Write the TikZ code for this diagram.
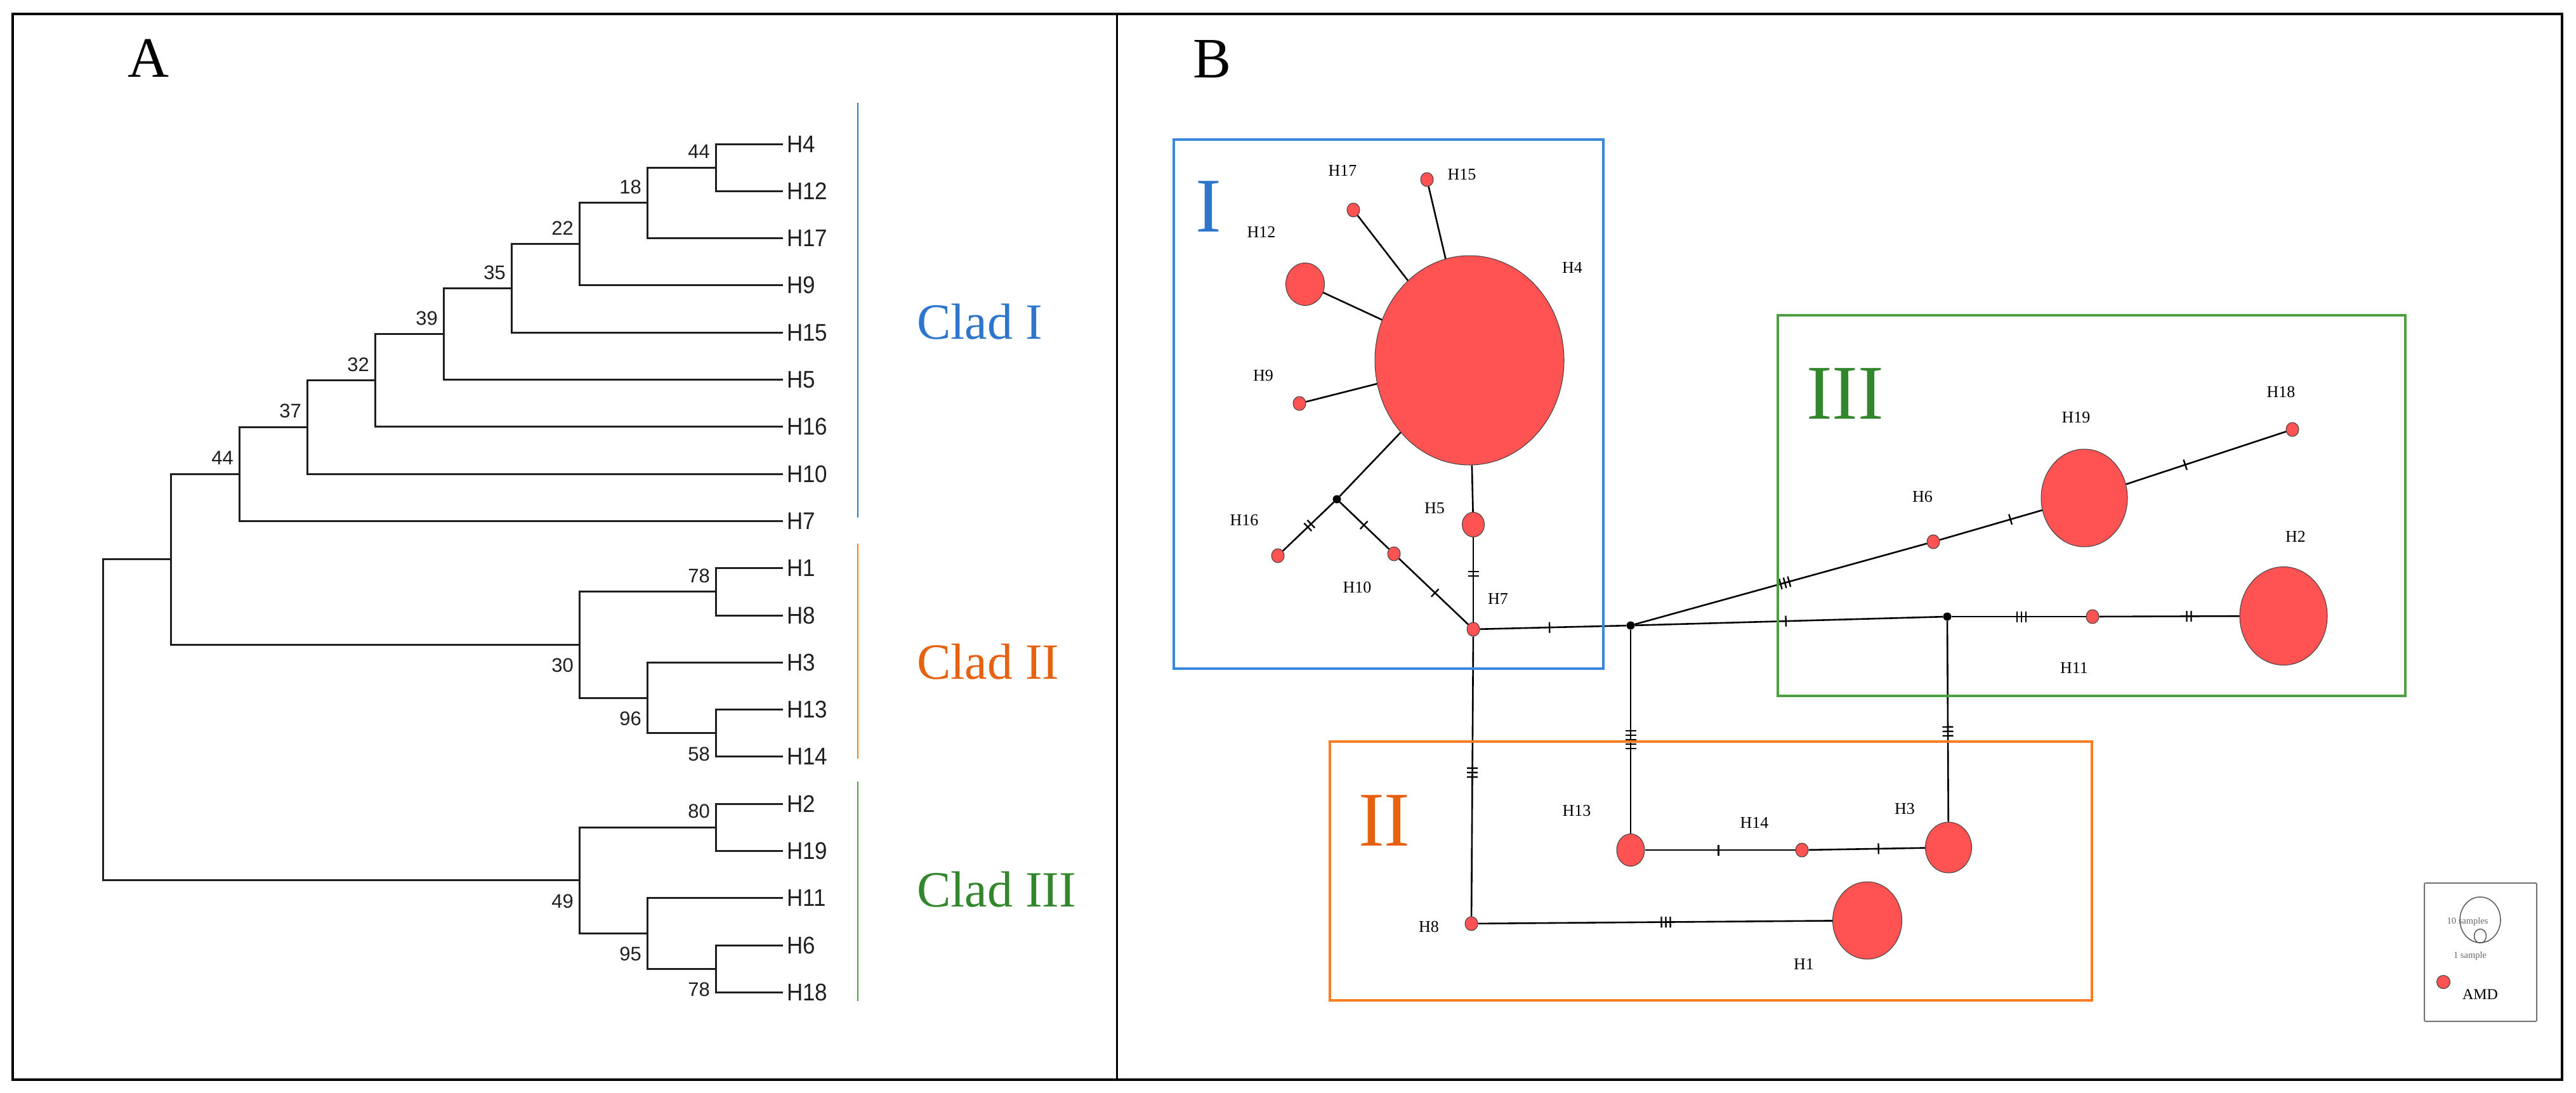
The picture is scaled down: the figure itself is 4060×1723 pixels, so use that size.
\documentclass[tikz,border=0pt]{standalone}
\usepackage{fontspec}
\setmainfont{Liberation Serif}
\newfontfamily\treesans{Liberation Sans}
\newfontfamily\leafsans[FakeStretch=0.92]{Liberation Sans}
\usetikzlibrary{shapes.geometric,decorations.markings}

\definecolor{hapred}{RGB}{255,82,82}
\definecolor{cladblue}{RGB}{46,117,204}
\definecolor{boxblue}{RGB}{58,134,220}
\definecolor{cladorange}{RGB}{230,98,18}
\definecolor{boxorange}{RGB}{250,125,35}
\definecolor{cladgreen}{RGB}{50,135,45}
\definecolor{boxgreen}{RGB}{78,158,66}

\tikzset{
  branch/.style={line width=3pt, color=black!88},
  leaf/.style={anchor=west, inner xsep=6pt, inner ysep=0pt, text=black!88, font=\leafsans\fontsize{38}{38}\selectfont},
  boot/.style={anchor=east, inner sep=0pt, text=black!88, font=\treesans\fontsize{31}{31}\selectfont},
  clad/.style={anchor=base west, inner sep=0pt, font=\fontsize{80}{80}\selectfont},
  panel/.style={anchor=base west, inner sep=0pt, font=\fontsize{90}{90}\selectfont},
  roman/.style={anchor=base west, inner sep=0pt, font=\fontsize{122}{122}\selectfont},
  hap/.style 2 args={ellipse, draw=black!75, line width=1pt, fill=hapred, inner sep=0pt, minimum width=#1, minimum height=#2},
  hsmall/.style={hap={20pt}{22pt}},
  mv/.style={circle, fill=black, inner sep=0pt, minimum size=13pt},
  hlab/.style={inner sep=0pt, font=\fontsize{26}{26}\selectfont},
  keylab/.style={inner sep=0pt, text=black!60, font=\fontsize{14.5}{14.5}\selectfont},
  edge/.style={line width=2.6pt},
  ticks/.style 2 args={postaction={decorate, decoration={markings, mark=at position #1 with {\foreach \t in {1,...,#2}{\draw[line width=2.4pt] ({(\t-(#2+1)/2)*7pt},-8.5pt) -- ({(\t-(#2+1)/2)*7pt},8.5pt);}}}}},
}

\begin{document}
\begin{tikzpicture}[x=1pt,y=1pt,yscale=-1,xscale=1]
\useasboundingbox (0,0) rectangle (4060,1723);

%Frame
\draw [line width=3.5pt] (20,22) rectangle (4038,1702);
\draw [line width=3pt] (1760,22) -- (1760,1702);

% Text Node
\node [panel] (labA) at (201,122) {A};
% Text Node
\node [panel] (labB) at (1880,123) {B};

%Tree leaves
\node [leaf] (L4) at (1234,227) {H4};
\node [leaf] (L12) at (1234,301.3) {H12};
\node [leaf] (L17) at (1234,375.6) {H17};
\node [leaf] (L9) at (1234,449.9) {H9};
\node [leaf] (L15) at (1234,524.2) {H15};
\node [leaf] (L5) at (1234,598.5) {H5};
\node [leaf] (L16) at (1234,672.8) {H16};
\node [leaf] (L10) at (1234,747.1) {H10};
\node [leaf] (L7) at (1234,821.4) {H7};
\node [leaf] (L1) at (1234,895.7) {H1};
\node [leaf] (L8) at (1234,970) {H8};
\node [leaf] (L3) at (1234,1044.3) {H3};
\node [leaf] (L13) at (1234,1118.6) {H13};
\node [leaf] (L14) at (1234,1192.9) {H14};
\node [leaf] (L2) at (1234,1267.2) {H2};
\node [leaf] (L19) at (1234,1341.5) {H19};
\node [leaf] (L11) at (1234,1415.8) {H11};
\node [leaf] (L6) at (1234,1490.1) {H6};
\node [leaf] (L18) at (1234,1564.4) {H18};

%Tree inner nodes
\coordinate (a44) at (1128,264.2);
\coordinate (a18) at (1020,319.9);
\coordinate (a22) at (913,384.9);
\coordinate (a35) at (806,454.5);
\coordinate (a39) at (699,526.5);
\coordinate (a32) at (591,599.7);
\coordinate (a37) at (484,673.4);
\coordinate (a44b) at (377,747.4);
\coordinate (b78) at (1128,932.9);
\coordinate (b58) at (1128,1155.8);
\coordinate (b96) at (1020,1100);
\coordinate (b30) at (913,1016.4);
\coordinate (c80) at (1128,1304.4);
\coordinate (c78) at (1128,1527.3);
\coordinate (c95) at (1020,1471.5);
\coordinate (c49) at (913,1387.9);
\coordinate (ab) at (269,881.9);
\coordinate (root) at (162,1134.9);

%Tree branches
\draw [branch] (a44) |- (L4.west);
\draw [branch] (a44) |- (L12.west);
\draw [branch] (a18) |- (a44);
\draw [branch] (a18) |- (L17.west);
\draw [branch] (a22) |- (a18);
\draw [branch] (a22) |- (L9.west);
\draw [branch] (a35) |- (a22);
\draw [branch] (a35) |- (L15.west);
\draw [branch] (a39) |- (a35);
\draw [branch] (a39) |- (L5.west);
\draw [branch] (a32) |- (a39);
\draw [branch] (a32) |- (L16.west);
\draw [branch] (a37) |- (a32);
\draw [branch] (a37) |- (L10.west);
\draw [branch] (a44b) |- (a37);
\draw [branch] (a44b) |- (L7.west);
\draw [branch] (b78) |- (L1.west);
\draw [branch] (b78) |- (L8.west);
\draw [branch] (b58) |- (L13.west);
\draw [branch] (b58) |- (L14.west);
\draw [branch] (b96) |- (L3.west);
\draw [branch] (b96) |- (b58);
\draw [branch] (b30) |- (b78);
\draw [branch] (b30) |- (b96);
\draw [branch] (c80) |- (L2.west);
\draw [branch] (c80) |- (L19.west);
\draw [branch] (c78) |- (L6.west);
\draw [branch] (c78) |- (L18.west);
\draw [branch] (c95) |- (L11.west);
\draw [branch] (c95) |- (c78);
\draw [branch] (c49) |- (c80);
\draw [branch] (c49) |- (c95);
\draw [branch] (ab) |- (a44b);
\draw [branch] (ab) |- (b30);
\draw [branch] (root) |- (ab);
\draw [branch] (root) |- (c49);

%Bootstrap values
\node [boot] (s44) at (1119,239) {44};
\node [boot] (s18) at (1011,295) {18};
\node [boot] (s22) at (904,360) {22};
\node [boot] (s35) at (797,430) {35};
\node [boot] (s39) at (690,502) {39};
\node [boot] (s32) at (582,575) {32};
\node [boot] (s37) at (475,648) {37};
\node [boot] (s44b) at (368,722) {44};
\node [boot] (s78) at (1119,908) {78};
\node [boot] (s30) at (904,1049) {30};
\node [boot] (s96) at (1011,1133) {96};
\node [boot] (s58) at (1119,1189) {58};
\node [boot] (s80) at (1119,1279) {80};
\node [boot] (s49) at (904,1421) {49};
\node [boot] (s95) at (1011,1504) {95};
\node [boot] (s78b) at (1119,1560) {78};

%Clade bars
\draw [cladblue, line width=2pt] (1352,162) -- (1352,816);
\draw [boxorange, line width=2pt] (1352,857) -- (1352,1196);
\draw [boxgreen, line width=2pt] (1352,1232) -- (1352,1578);
% Text Node
\node [clad, text=cladblue] (cI) at (1445,534) {Clad I};
\node [clad, text=cladorange] (cII) at (1445,1070) {Clad II};
\node [clad, text=cladgreen] (cIII) at (1445,1429) {Clad III};

%Haplotypes
\node [hap={298pt}{330pt}] (H4) at (2316,568) {};
\node [hap={61pt}{67pt}] (H12) at (2057,448) {};
\node [hsmall] (H17) at (2133,331) {};
\node [hsmall] (H15) at (2249,283) {};
\node [hsmall] (H9) at (2048,636) {};
\node [hap={35pt}{39pt}] (H5) at (2322,827) {};
\node [hsmall] (H16) at (2014,876) {};
\node [hsmall] (H10) at (2197,873) {};
\node [hsmall] (H7) at (2322,992) {};
\node [mv] (mv1) at (2107,787) {};
\node [mv] (mv2) at (2570,986) {};
\node [mv] (mv3) at (3069,972) {};
\node [hsmall] (H6) at (3047,854) {};
\node [hap={136pt}{154pt}] (H19) at (3285,785) {};
\node [hsmall] (H18) at (3613,677) {};
\node [hsmall] (H11) at (3298,972) {};
\node [hap={138pt}{155pt}] (H2) at (3599,971) {};
\node [hap={44pt}{51pt}] (H13) at (2570,1340) {};
\node [hsmall] (H14) at (2840,1340) {};
\node [hap={73pt}{80pt}] (H3) at (3071,1336) {};
\node [hap={109pt}{122pt}] (H1) at (2943,1451) {};
\node [hsmall] (H8) at (2319,1456) {};

%Network links
\draw [edge] (H4) -- (H12);
\draw [edge] (H4) -- (H17);
\draw [edge] (H4) -- (H15);
\draw [edge] (H4) -- (H9);
\draw [edge] (H4) -- (mv1);
\draw [edge] (H4) -- (H5);
\draw [edge, ticks={0.48}{2}] (mv1) -- (H16);
\draw [edge, ticks={0.49}{1}] (mv1) -- (H10);
\draw [edge, ticks={0.52}{1}] (H10) -- (H7);
\draw [edge, ticks={0.43}{2}] (H5) -- (H7);
\draw [edge, ticks={0.475}{1}] (H7) -- (mv2);
\draw [edge, ticks={0.486}{3}] (H7) -- (H8);
\draw [edge, ticks={0.54}{5}] (mv2) -- (H13);
\draw [edge, ticks={0.514}{3}] (mv2) -- (H6);
\draw [edge, ticks={0.69}{1}] (H6) -- (H19);
\draw [edge, ticks={0.37}{1}] (H19) -- (H18);
\draw [edge, ticks={0.49}{1}] (mv2) -- (mv3);
\draw [edge, ticks={0.52}{3}] (mv3) -- (H11);
\draw [edge, ticks={0.64}{2}] (H11) -- (H2);
\draw [edge, ticks={0.55}{3}] (mv3) -- (H3);
\draw [edge, ticks={0.49}{1}] (H13) -- (H14);
\draw [edge, ticks={0.6}{1}] (H14) -- (H3);
\draw [edge, ticks={0.53}{3}] (H8) -- (H1);

%Haplotype names
\node [hlab] (lH17) at (2116,269) {H17};
\node [hlab] (lH15) at (2304,275) {H15};
\node [hlab] (lH12) at (1988,366) {H12};
\node [hlab] (lH4) at (2478,422) {H4};
\node [hlab] (lH9) at (1991,592) {H9};
\node [hlab] (lH16) at (1961,820) {H16};
\node [hlab] (lH5) at (2261,801) {H5};
\node [hlab] (lH10) at (2139,926) {H10};
\node [hlab] (lH7) at (2361,944) {H7};
\node [hlab] (lH18) at (3595,618) {H18};
\node [hlab] (lH19) at (3272,658) {H19};
\node [hlab] (lH6) at (3030,783) {H6};
\node [hlab] (lH2) at (3618,846) {H2};
\node [hlab] (lH11) at (3269,1053) {H11};
\node [hlab] (lH13) at (2485,1278) {H13};
\node [hlab] (lH14) at (2765,1297) {H14};
\node [hlab] (lH3) at (3002,1275) {H3};
\node [hlab] (lH8) at (2252,1461) {H8};
\node [hlab] (lH1) at (2843,1520) {H1};

%Group boxes
\draw [boxblue, line width=4pt] (1850,220) rectangle (2527,1054);
\draw [boxgreen, line width=4pt] (2802,497) rectangle (3791,1097);
\draw [boxorange, line width=4pt] (2096,1169) rectangle (3297,1577);
% Text Node
\node [roman, text=cladblue] (gI) at (1884,365) {I};
\node [roman, text=cladorange] (gII) at (2141,1333) {II};
\node [roman, text=cladgreen] (gIII) at (2847,660) {III};

%Legend
\draw [black!55, line width=2pt, rounded corners=2pt] (3821,1392) rectangle (3998,1610);
\node [ellipse, draw=black!65, line width=1.5pt, inner sep=0pt, minimum width=64pt, minimum height=72pt] (k10) at (3909,1450) {};
\node [ellipse, draw=black!65, line width=1.5pt, inner sep=0pt, minimum width=19pt, minimum height=22pt] (k1) at (3909,1475.5) {};
\node [keylab] (t10) at (3889,1453) {10 samples};
\node [keylab] (t1) at (3893,1507) {1 sample};
\node [hap={21pt}{21pt}] (kAMD) at (3851,1548) {};
\node [hlab, font=\fontsize{24}{24}\selectfont] (tAMD) at (3909,1568) {AMD};

\end{tikzpicture}
\end{document}
